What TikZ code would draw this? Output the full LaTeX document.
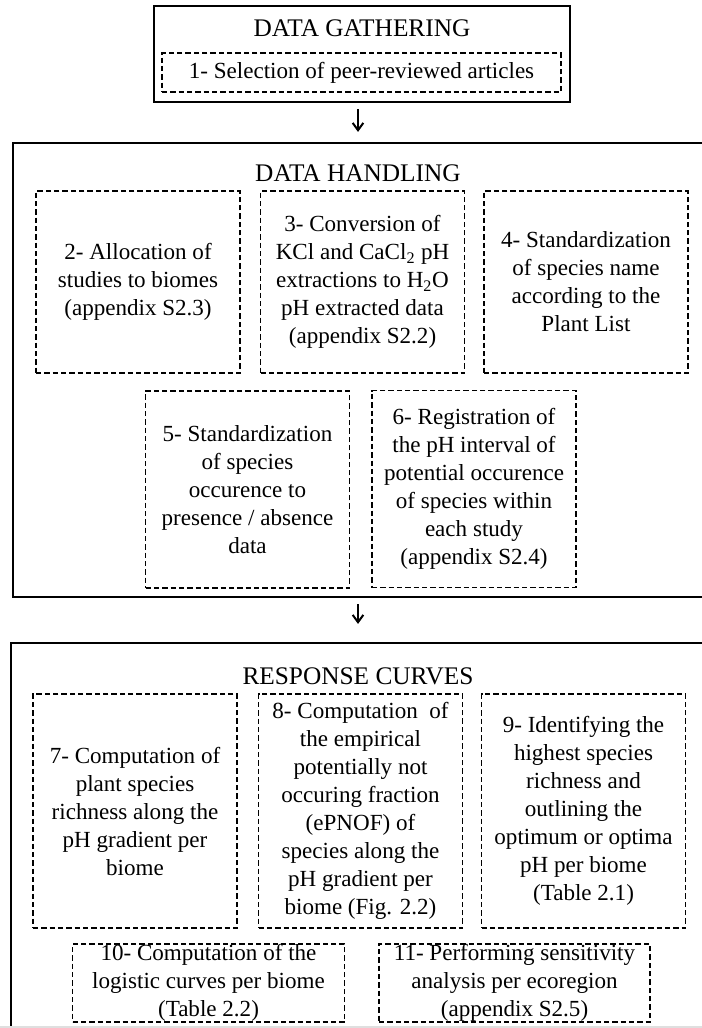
\documentclass[tikz,border=0pt]{standalone}
\usepackage{fontspec}
\setmainfont{Liberation Serif}
\usetikzlibrary{arrows.meta}
\begin{document}
\begin{tikzpicture}[x=0.75pt,y=-0.75pt,
  stagebox/.style={draw,line width=1.6pt,inner sep=0pt},
  stagetitle/.style={inner sep=0pt,font=\fontsize{19}{23}\selectfont},
  stepbox/.style={draw,line width=0.8pt,dash pattern=on 4pt off 2.25pt,inner sep=0pt,align=center,font=\fontsize{17.3}{21}\selectfont},
  flowarrow/.style={line width=1.5pt,-{Straight Barb[length=5.5pt,width=8pt]}}]
\useasboundingbox (0,0) rectangle (702,1028);
\clip (0,0) rectangle (702,1028);
% stage boxes (cut off at the right and bottom)
\node[stagebox,minimum width=312pt,minimum height=72pt] (gather) at (362,54) {};
\node[stagebox,minimum width=538pt,minimum height=340.5pt] (handling) at (371.25,370) {};
\node[stagebox,minimum width=539.25pt,minimum height=312.75pt] (response) at (370.5,851.5) {};
\node[stagetitle] (gatherTitle) at (362,28) {DATA GATHERING};
\node[stagetitle] (handlingTitle) at (358,173) {DATA HANDLING};
\node[stagetitle] (responseTitle) at (358,676) {RESPONSE CURVES};
% data gathering
\node[stepbox,minimum width=299.25pt,minimum height=29.25pt] (selection) at (361.5,72.5) {1- Selection of peer-reviewed articles};
% data handling
\node[stepbox,minimum width=153pt,minimum height=136.5pt] (allocation) at (138,282) {2- Allocation of\\studies to biomes\\(appendix S2.3)};
\node[stepbox,minimum width=153pt,minimum height=136.5pt] (conversion) at (362.5,282) {3- Conversion of\\KCl and CaCl\textsubscript{2} pH\\extractions to H\textsubscript{2}O\\pH extracted data\\(appendix S2.2)};
\node[stepbox,minimum width=153pt,minimum height=136.5pt] (naming) at (586,282) {4- Standardization\\of species name\\according to the\\Plant List};
\node[stepbox,minimum width=153pt,minimum height=147.75pt] (occurence) at (247.5,489.5) {5- Standardization\\of species\\occurence to\\presence / absence\\data};
\node[stepbox,minimum width=153pt,minimum height=147.75pt] (interval) at (474,489) {6- Registration of\\the pH interval of\\potential occurence\\of species within\\each study\\(appendix S2.4)};
% response curves
\node[stepbox,minimum width=153pt,minimum height=175.5pt] (richness) at (135,811) {7- Computation of\\plant species\\richness along the\\pH gradient per\\biome};
\node[stepbox,minimum width=153pt,minimum height=175.5pt] (fraction) at (360.5,811) {8- Computation ~of\\the empirical\\potentially not\\occuring fraction\\(ePNOF) of\\species along the\\pH gradient per\\biome (Fig. 2.2)};
\node[stepbox,minimum width=153pt,minimum height=175.5pt] (optimum) at (583.5,811) {9- Identifying the\\highest species\\richness and\\outlining the\\optimum or optima\\pH per biome\\(Table 2.1)};
\node[stepbox,minimum width=204pt,minimum height=58.5pt] (logistic) at (208.5,983) {10- Computation of the\\logistic curves per biome\\(Table 2.2)};
\node[stepbox,minimum width=203.25pt,minimum height=58.5pt] (sensitivity) at (514.5,983) {11- Performing sensitivity\\analysis per ecoregion\\(appendix S2.5)};
% arrows
\draw[flowarrow,shorten <=4.5pt,shorten >=7.5pt] (handlingTitle |- gather.south) -- (handlingTitle |- handling.north);
\draw[flowarrow,shorten <=4.5pt,shorten >=13.5pt] (handlingTitle |- handling.south) -- (handlingTitle |- response.north);
% page edge
\draw[gray!25,line width=1.5pt] (0,1027) -- (702,1027);
\end{tikzpicture}
\end{document}
